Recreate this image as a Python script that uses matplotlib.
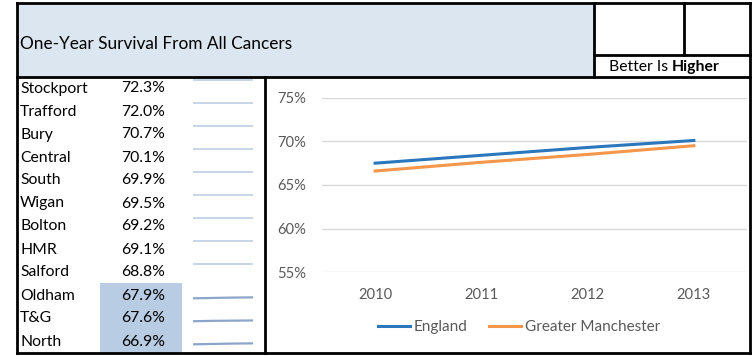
import matplotlib.pyplot as plt
from matplotlib.patches import Rectangle
from matplotlib.lines import Line2D

plt.rcParams['font.family'] = ['Lato', 'DejaVu Sans']

# table data (latest year)
areas = ["Stockport", "Trafford", "Bury", "Central", "South", "Wigan",
         "Bolton", "HMR", "Salford", "Oldham", "T&G", "North"]
survival = [72.3, 72.0, 70.7, 70.1, 69.9, 69.5, 69.2, 69.1, 68.8, 67.9, 67.6, 66.9]
flagged = ["Oldham", "T&G", "North"]

# small trend per area, 2010-2013
trends = [
    [72.3, 72.3, 72.3, 72.3],
    [72.0, 72.0, 72.0, 72.0],
    [70.7, 70.7, 70.7, 70.7],
    [70.1, 70.1, 70.1, 70.1],
    [69.9, 69.9, 69.9, 69.9],
    [69.5, 69.5, 69.5, 69.5],
    [69.2, 69.2, 69.2, 69.2],
    [69.1, 69.1, 69.1, 69.1],
    [68.8, 68.8, 68.8, 68.8],
    [67.4, 67.6, 67.8, 67.9],
    [67.2, 67.4, 67.5, 67.6],
    [66.4, 66.6, 66.8, 66.9],
]

# line chart
years = ["2010", "2011", "2012", "2013"]
england = [67.5, 68.4, 69.3, 70.1]
greater_manchester = [66.6, 67.6, 68.5, 69.5]

W, H = 752, 356
fig = plt.figure(figsize=(W / 100, H / 100), dpi=100)

# background axes in pixel coordinates for the table frame
bg = fig.add_axes([0, 0, 1, 1])
bg.set_xlim(0, W)
bg.set_ylim(H, 0)
bg.axis('off')

header_fill = "#DCE6F1"
flag_fill = "#B8CCE4"
bg.add_patch(Rectangle((17, 3), 577, 74, facecolor=header_fill, edgecolor='none'))

row_top, row_h = 77, 23
for i, (name, val) in enumerate(zip(areas, survival)):
    y0 = row_top + i * row_h
    if name in flagged:
        bg.add_patch(Rectangle((100, y0 - 1), 82, row_h + 1, facecolor=flag_fill, edgecolor='none'))
    bg.text(20, y0 + row_h / 2, name, fontsize=11.3, va='center', ha='left', color='black')
    bg.text(121, y0 + row_h / 2, f"{val:.1f}%", fontsize=11.3, va='center', ha='left', color='black')

bg.text(20, 44, "One-Year Survival From All Cancers", fontsize=12.4, va='center', ha='left')
bg.text(672, 67, "Better Is ", fontsize=11.3, va='center', ha='right')
bg.text(672, 67, "Higher", fontsize=11.3, va='center', ha='left', fontweight='bold')

# frame lines
lw = 2
frame = [
    ((17, 750), (3, 3)), ((17, 750), (353, 353)), ((17, 17), (3, 353)),
    ((750, 750), (3, 353)), ((17, 750), (77, 77)), ((594, 594), (3, 77)),
    ((265, 265), (77, 353)), ((594, 750), (55, 55)), ((684, 684), (3, 55)),
]
for xs, ys in frame:
    bg.add_line(Line2D(xs, ys, color='black', lw=lw, solid_capstyle='projecting'))

# sparklines, one small axes per row
for i, (name, tr) in enumerate(zip(areas, trends)):
    y0 = row_top + i * row_h
    sax = fig.add_axes([193 / W, 1 - (y0 + row_h) / H, 60 / W, row_h / H])
    sax.axis('off')
    if name in flagged:
        sax.plot(range(4), tr, color="#7F9CC4", lw=1.6, alpha=0.9)
        frac = 0.4
    else:
        sax.plot(range(4), tr, color="#C8D5E8", lw=1.4)
        frac = 0.88
    mid = sum(tr) / 4
    span = 12.0
    sax.set_ylim(mid - frac * span, mid + (1 - frac) * span)
    sax.set_xlim(0, 3)

# main line chart
ax = fig.add_axes([322 / W, 1 - 272.3 / H, 425 / W, (272.3 - 97.7) / H])
x = range(len(years))
ax.plot(x, england, color="#2A77BD", lw=2.2, label="England")
ax.plot(x, greater_manchester, color="#F6964A", lw=2.2, label="Greater Manchester")
ax.set_xlim(-0.5, 3.5)
ax.set_ylim(55, 75)
ax.set_yticks([55, 60, 65, 70, 75])
ax.set_yticklabels([f"{t}%" for t in [55, 60, 65, 70, 75]])
ax.set_xticks(list(x))
ax.set_xticklabels(years)
ax.grid(axis='y', color="#D9D9D9", lw=1)
ax.set_axisbelow(True)
for s in ax.spines.values():
    s.set_visible(False)
ax.tick_params(length=0, colors="#595959", labelsize=10.6)
ax.tick_params(axis='y', pad=11.5)
ax.tick_params(axis='x', pad=11)

fig.legend(loc='center', bbox_to_anchor=(519 / W, 1 - 327 / H), ncol=2, frameon=False,
           fontsize=11, handlelength=2.1, handletextpad=0.25, columnspacing=1.4,
           labelcolor="#595959")

fig.savefig("out.png", dpi=100)
